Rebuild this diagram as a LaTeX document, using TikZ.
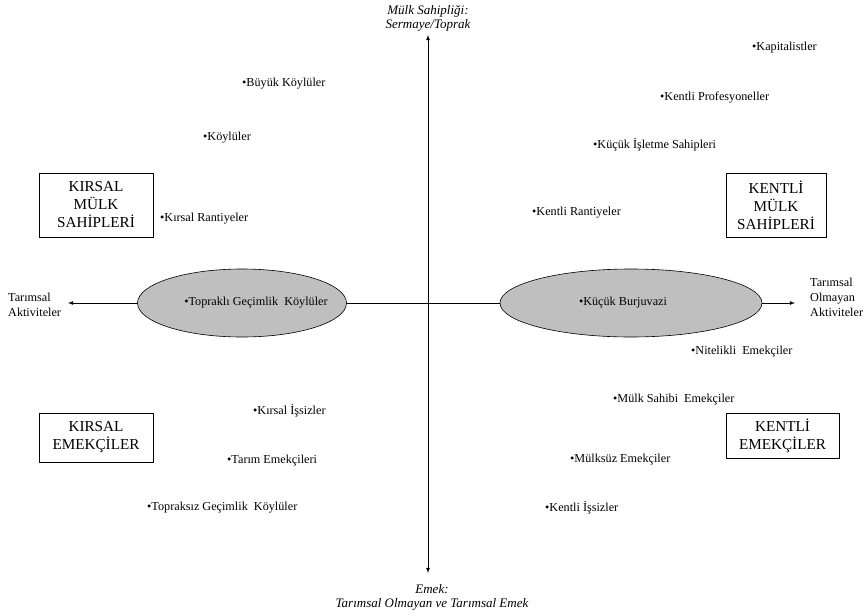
\documentclass[tikz,border=0pt]{standalone}
\usepackage{fontspec}
\setmainfont{Liberation Serif}
\usetikzlibrary{shapes,arrows,positioning}

\begin{document}
\begin{tikzpicture}[
	%	style def
    x=1pt, y=-1pt,
    axis line/.style={latex-latex, thick},
    class box/.style={draw, semithick, minimum width=114pt, align=center, font=\fontsize{15.2}{18}\selectfont},
    group/.style={draw, semithick, ellipse, fill=gray!50, minimum height=68pt},
    item/.style={anchor=west, inner sep=0pt, font=\fontsize{12.2}{14}\selectfont},
    axis label/.style={align=center, inner sep=0pt, font=\itshape\fontsize{13}{14.5}\selectfont},
    side label/.style={align=left, anchor=west, inner sep=0pt, font=\fontsize{12.2}{15}\selectfont}
    ]
	\useasboundingbox (0,0) rectangle (863,616);

	% axes
	\coordinate (top) at (428,35);
	\coordinate (bottom) at (428,573);
	\coordinate (left) at (68,303);
	\coordinate (right) at (795,303);
	\draw[axis line] (bottom) -- (top);
	\draw[axis line] (left) -- (right);

	% axis labels
	\node[axis label, above=3pt of top] (own) {Mülk Sahipliği:\\Sermaye/Toprak};
	\node[axis label, below=11pt of bottom, xshift=4pt] (labour) {Emek:\\Tarımsal Olmayan ve Tarımsal Emek};
	\node[side label] (agri) at (8,305) {Tarımsal\\Aktiviteler};
	\node[side label] (nonagri) at (810,297) {Tarımsal\\Olmayan\\Aktiviteler};

	% ellipses on the horizontal axis
	\node[group, minimum width=209pt] (subsell) at (242,303) {};
	\node[item, anchor=center] (subs) at (256,303) {\textbullet Topraklı Geçimlik\ \ Köylüler};
	\node[group, minimum width=262pt] (pettyell) at (631,303) {};
	\node[item, anchor=center] (petty) at (623,303) {\textbullet Küçük Burjuvazi};

	% class boxes
	\node[class box, minimum height=64pt] (ruralown) at (96,205) {KIRSAL\\MÜLK\\SAHİPLERİ};
	\node[class box, minimum height=49pt] (rurallab) at (96,437.5) {KIRSAL\\EMEKÇİLER};
	\node[class box, minimum width=100pt, minimum height=64pt] (urbanown) at (776,205) {KENTLİ\\MÜLK\\SAHİPLERİ};
	\node[class box, minimum width=113pt, minimum height=45pt] (urbanlab) at (782.5,435.5) {KENTLİ\\EMEKÇİLER};

	% rural owners
	\node[item] (bigpeas) at (242,84) {\textbullet Büyük Köylüler};
	\node[item] (peas) at (203,138) {\textbullet Köylüler};
	\node[item] (rurrent) at (160,219) {\textbullet Kırsal Rantiyeler};
	% rural labour
	\node[item] (rurunemp) at (253,411) {\textbullet Kırsal İşsizler};
	\node[item] (agrilab) at (227,461) {\textbullet Tarım Emekçileri};
	\node[item] (landless) at (147,508) {\textbullet Topraksız Geçimlik\ \ Köylüler};
	% urban owners
	\node[item] (capital) at (752,48) {\textbullet Kapitalistler};
	\node[item] (prof) at (660,98) {\textbullet Kentli Profesyoneller};
	\node[item] (smallbiz) at (593,145) {\textbullet Küçük İşletme Sahipleri};
	\node[item] (urbrent) at (532,213) {\textbullet Kentli Rantiyeler};
	% urban labour
	\node[item] (skilled) at (691,352) {\textbullet Nitelikli\ \ Emekçiler};
	\node[item] (ownlab) at (613,400) {\textbullet Mülk Sahibi\ \ Emekçiler};
	\node[item] (proplessl) at (570,460) {\textbullet Mülksüz Emekçiler};
	\node[item] (urbunemp) at (545,508) {\textbullet Kentli İşsizler};
\end{tikzpicture}
\end{document}
